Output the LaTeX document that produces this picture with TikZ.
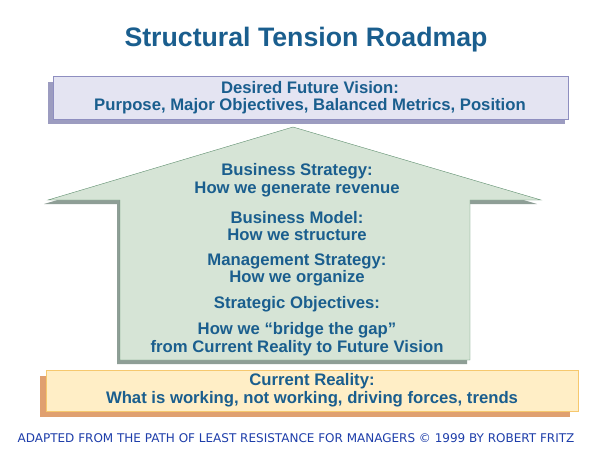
\documentclass[tikz,border=0pt]{standalone}
\usepackage{fontspec}
\setmainfont{Liberation Sans}
\newfontfamily\footfont{DejaVu Sans}
\usetikzlibrary{positioning}
\definecolor{titleblue}{HTML}{1A5E8E}
\definecolor{visionfill}{HTML}{E4E4F2}
\definecolor{visionshade}{HTML}{9C9CC0}
\definecolor{visionline}{HTML}{8E8EC0}
\definecolor{houseFill}{HTML}{D6E4D6}
\definecolor{houseLine}{HTML}{5E8E6E}
\definecolor{houseShade}{HTML}{8E9E96}
\definecolor{realfill}{HTML}{FFEEC6}
\definecolor{realline}{HTML}{F6C86E}
\definecolor{realshade}{HTML}{E0A070}
\definecolor{footblue}{HTML}{1E3EAA}
\tikzset{
  lbl/.style={text=titleblue,font=\fontsize{16.7}{17.5}\selectfont\bfseries,align=center},
}
\begin{document}
\begin{tikzpicture}[x=1pt,y=-1pt]
  \useasboundingbox[fill=white] (0,0) rectangle (600,456);

  % top box
  \fill[visionshade] (48,82) rectangle (565,124);
  \draw[visionline,fill=visionfill] (53,76) rectangle (568,119);
  \node[lbl] (vision) at (310,97.5) {Desired Future Vision:\\Purpose, Major Objectives, Balanced Metrics, Position};

  % house arrow
  \fill[houseShade] (290,131) -- (537,204) -- (467,204) -- (467,364) -- (117,364) -- (117,204) -- (44,204) -- cycle;
  \draw[houseLine,fill=houseFill] (293,127) -- (541,200) -- (470,200) -- (470,360) -- (120,360) -- (120,200) -- (48,200) -- cycle;
  \node[lbl] (bizstrat) at (297,180) {Business Strategy:\\How we generate revenue};
  \node[lbl] (bizmodel) at (297,226) {Business Model:\\How we structure};
  \node[lbl] (mgmt) at (297,270) {Management Strategy:\\How we organize};
  \node[lbl] (objectives) at (297,304) {Strategic Objectives:};
  \node[lbl] (gap) at (297,339) {How we “bridge the gap”\\from Current Reality to Future Vision};

  % bottom box
  \fill[realshade] (40,376) rectangle (570,417);
  \draw[realline,fill=realfill] (46,370) rectangle (578,411);
  \node[lbl] (reality) at (312,390) {Current Reality:\\What is working, not working, driving forces, trends};

  \node[text=titleblue,font=\fontsize{26.7}{30}\selectfont\bfseries] (title) at (306,40) {Structural Tension Roadmap};
  \node[text=footblue,font=\footfont\fontsize{12}{14}\selectfont] (credit) at (296,438)
    {ADAPTED FROM THE PATH OF LEAST RESISTANCE FOR MANAGERS © 1999 BY ROBERT FRITZ};
\end{tikzpicture}
\end{document}
